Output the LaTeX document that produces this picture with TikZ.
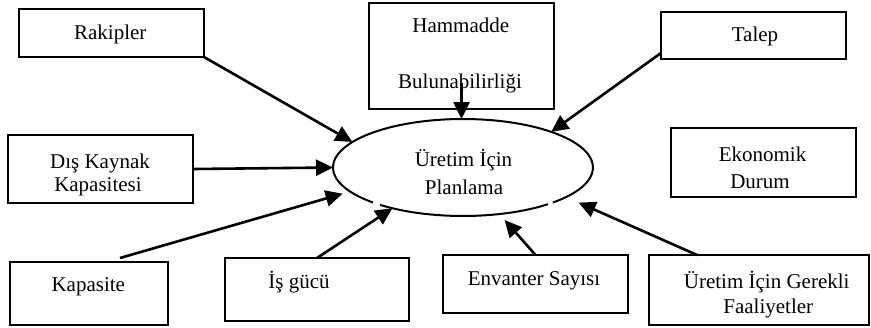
\documentclass[tikz,border=0pt]{standalone}
\usepackage{fontspec}
\setmainfont{Liberation Serif}
\usepackage{tikz}
\usetikzlibrary{shapes,arrows.meta,positioning,calc,shapes.geometric}

\begin{document}
\begin{tikzpicture}[
        x=0.5pt, y=-0.5pt,
        fbox/.style={draw, line width=1pt, rectangle, inner sep=0pt, outer sep=0pt},
        pell/.style={ellipse, draw=none, inner sep=0pt, outer sep=0pt, minimum width=130pt, minimum height=48.5pt},
        lbl/.style={anchor=base, inner sep=0pt, font=\fontsize{10.5}{12}\selectfont},
        arr/.style={line width=1.3pt, -{Triangle[length=8.5pt,width=8pt]}}
    ]
        \useasboundingbox (0,0) rectangle (871,327);

        % Factors
        \node[fbox, minimum width=92.5pt, minimum height=24pt] (fRakip) at (111.5,33) {};
        \node[fbox, minimum width=92.5pt, minimum height=53pt] (fHam) at (461.5,56) {};
        \node[fbox, minimum width=92.5pt, minimum height=23.5pt] (fTalep) at (753.5,35.5) {};
        \node[fbox, minimum width=92.5pt, minimum height=34pt] (fDis) at (100.5,169) {};
        \node[fbox, minimum width=92.5pt, minimum height=34.5pt] (fEko) at (763.5,162.5) {};
        \node[fbox, minimum width=79pt, minimum height=31.5pt] (fKap) at (89,293.5) {};
        \node[fbox, minimum width=92pt, minimum height=31.5pt] (fIsg) at (317,289.5) {};
        \node[fbox, minimum width=92.5pt, minimum height=29pt] (fEnv) at (535.5,284) {};
        \node[fbox, minimum width=110pt, minimum height=35pt] (fUret) at (759,290) {};

        % Central process
        \node[pell] (pPlan) at (463,167.5) {};
        \draw[line width=1pt] ([shift={(313.7:65pt and 24.25pt)}]pPlan.center) arc[start angle=313.7, end angle=586.2, x radius=65pt, y radius=24.25pt];
        \draw[line width=1pt] ([shift={(230.4:65pt and 24.25pt)}]pPlan.center) arc[start angle=230.4, end angle=310.8, x radius=65pt, y radius=24.25pt];

        % Labels
        \node[lbl] (tRakip) at (110.3,39.3) {Rakipler};
        \node[lbl] (tHamA) at (460.8,32.3) {Hammadde};
        \node[lbl] (tHamB) at (460,88.3) {Bulunabilirliği};
        \node[lbl] (tTalep) at (755,41.7) {Talep};
        \node[lbl] (tDisA) at (100,168.3) {Dış Kaynak};
        \node[lbl] (tDisB) at (98,191.7) {Kapasitesi};
        \node[lbl] (tEkoA) at (762.5,161.7) {Ekonomik};
        \node[lbl] (tEkoB) at (760,188.3) {Durum};
        \node[lbl] (tPlanA) at (463.5,166.7) {Üretim İçin};
        \node[lbl] (tPlanB) at (464,194.3) {Planlama};
        \node[lbl] (tKap) at (88.3,291.7) {Kapasite};
        \node[lbl] (tIsg) at (299,288.3) {İş gücü};
        \node[lbl] (tEnv) at (534,285) {Envanter Sayısı};
        \node[lbl] (tUretA) at (766.7,288.3) {Üretim İçin Gerekli};
        \node[lbl] (tUretB) at (768.3,313.3) {Faaliyetler};

        % Arrows
        \draw[arr] (fRakip.south east) -- (pPlan.167.8);
        \draw[arr] ([yshift=13pt]fHam.south) -- (fHam.south |- pPlan.north);
        \draw[arr] ([yshift=3pt]fTalep.south west) -- (pPlan.22.6);
        \draw[arr] (fDis.east) -- (pPlan.west);
        \draw[arr, shorten >=3.85pt] ([shift={(15.5pt,2pt)}]fKap.north) -- (pPlan.192.9);
        \draw[arr] (fIsg.north) -- (pPlan.210.8);
        \draw[arr, shorten >=3.95pt] (fEnv.north) -- (pPlan.308.4);
        \draw[arr, shorten >=6.85pt] ([xshift=-31pt]fUret.north) -- (pPlan.344.5);
    \end{tikzpicture}
\end{document}
